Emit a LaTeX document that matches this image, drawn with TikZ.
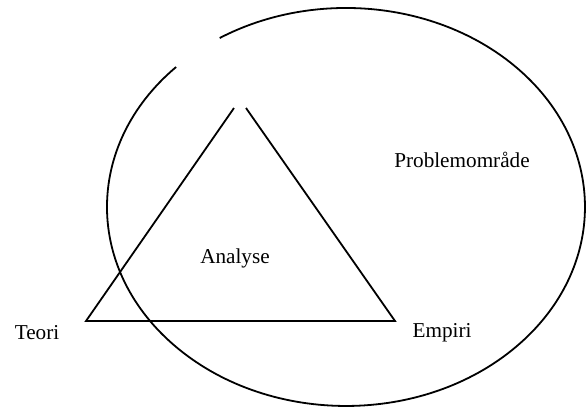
\documentclass[tikz,border=0pt]{standalone}
\usepackage{fontspec}
\setmainfont{Liberation Serif}
\usetikzlibrary{positioning}

\begin{document}
\begin{tikzpicture}[
    x=0.5pt, y=-0.5pt,
    outline/.style={draw=black, line width=0.9pt},
    lbl/.style={font=\fontsize{10.6}{13}\selectfont, inner sep=0pt}
]
    \useasboundingbox (0,0) rectangle (587,408);

    % problem area (ellipse with a gap at the top left)
    \coordinate (gap) at (176.1,67.0);
    \draw[outline] (gap) arc[start angle=-135.3, end angle=-481.9, x radius=239, y radius=199];

    % triangle
    \coordinate (tl) at (86,321);
    \coordinate (tr) at (395,321);
    \coordinate (ta1) at (234,108);
    \coordinate (ta2) at (246,108);
    \draw[outline, line join=miter] (ta1) -- (tl) -- (tr) -- (ta2);

    \node[lbl] (analyse) at (235,258) {Analyse};
    \node[lbl] (teori) at (37,333) {Teori};
    \node[lbl] (empiri) at (442,333) {Empiri};
    \node[lbl] (problem) at (462,160) {Problemområde};
\end{tikzpicture}
\end{document}
